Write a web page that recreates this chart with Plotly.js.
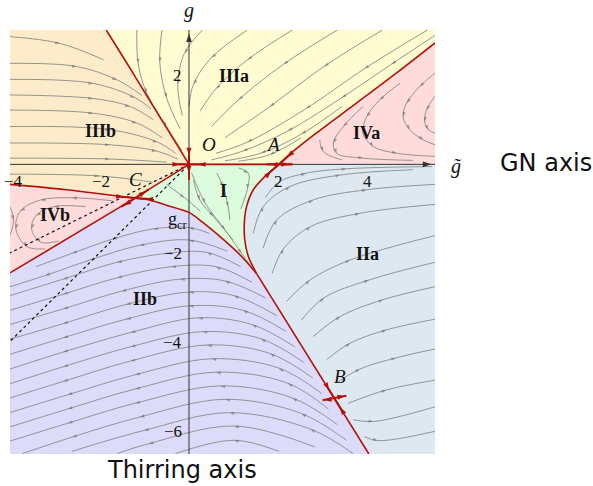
<!DOCTYPE html>
<html><head><meta charset="utf-8">
<script src="https://cdn.plot.ly/plotly-3.0.1.min.js"></script>
<style>body{margin:0;background:#fff}#c{width:593px;height:486px}</style>
</head><body><div id="c"></div>
<script>
// ---------- axis ranges ----------
const xRange = [-3.98, 5.47];
const yRange = [-6.51, 3.02];

// ---------- separatrices (data coords) ----------
const sepO     = [[0,0],[-0.45,0.74],[-0.93,1.53],[-1.39,2.29],[-1.84,3.02]];
const sepAup   = [[2,0],[2.3,0.28],[2.8,0.68],[3.73,1.38],[4.61,2.05],[5.47,2.73]];
const sepAdown = [[2,0],[1.69,-0.27],[1.43,-0.57],[1.28,-0.95],[1.23,-1.32],[1.24,-1.7],[1.32,-2.07],[1.5,-2.45]];
const sepB     = [[1.5,-2.45],[3.24,-5.27],[4.0,-6.51]];
const sepCcurve= [[-1.2,-0.76],[-0.87,-0.8],[-0.5,-0.92],[0.0,-1.08],[0.3,-1.3],[0.8,-1.72],[1.17,-2.07],[1.5,-2.45]];
const sepCleft = [[-1.2,-0.76],[-1.98,-0.66],[-2.72,-0.57],[-3.98,-0.45]];
const sepCdown = [[-1.2,-0.76],[-3.98,-2.44]];
const sepCO    = [[-1.2,-0.76],[0,0]];
const sepAxis  = [[-0.25,0],[2.3,0]];

// ---------- dotted lines ----------
const dotted1 = [[-0.12,-0.06],[-3.98,-1.99]];
const dotted2 = [[-0.12,-0.12],[-3.98,-3.98]];

// ---------- streamlines per region (in flow order) ----------
const streamsIIIb = [
 [[-3.98,2.87],[-2.87,2.72],[-1.9,2.35]],
 [[-3.98,2.27],[-2.5,2.2],[-1.6,1.9],[-1.05,1.55]],
 [[-3.98,1.91],[-2.13,1.82],[-1.2,1.5],[-0.85,1.25]],
 [[-3.98,1.56],[-2.13,1.48],[-1.31,1.3],[-0.79,1.0]],
 [[-3.98,1.22],[-2.13,1.15],[-1.16,0.93],[-0.6,0.6]],
 [[-3.98,0.85],[-1.76,0.78],[-0.7,0.5],[-0.3,0.25]],
 [[-3.98,0.48],[-1.76,0.44],[-0.72,0.3],[-0.25,0.12]],
 [[-3.98,0.14],[-1.76,0.12],[-0.5,0.05]],
 [[-3.98,-0.22],[-2.0,-0.26],[-0.8,-0.4]]
];
const streamsIIIa = [
 [[-1.16,3.02],[-1.13,2.27],[-0.94,1.6],[-0.5,0.85],[-0.15,0.3]],
 [[-0.6,3.02],[-0.65,2.3],[-0.5,1.5],[-0.2,0.8]],
 [[0.3,3.02],[-0.1,2.5],[-0.25,1.8],[-0.15,1.1]],
 [[1.3,3.02],[0.5,2.4],[0.1,1.8],[0.0,1.3]],
 [[2.3,3.02],[1.3,2.35],[0.6,1.7],[0.25,1.2]],
 [[3.3,3.02],[2.1,2.25],[1.1,1.45],[0.5,0.85]],
 [[4.3,3.02],[3.0,2.2],[1.8,1.3],[0.8,0.6]],
 [[5.3,3.02],[3.9,2.15],[2.6,1.25],[1.3,0.5],[0.6,0.25]],
 [[5.47,2.9],[4.5,2.25],[3.4,1.5],[2.2,0.75],[1.2,0.3],[0.5,0.1]],
 [[3.4,1.3],[2.5,0.68],[1.6,0.25],[0.8,0.08]],
 [[2.5,0.6],[1.8,0.22],[1.1,0.07]]
];
const streamsIVa = [
 [[5.47,2.05],[5.13,1.75],[4.84,1.38],[4.76,1.07],[4.91,0.78],[5.21,0.55],[5.47,0.44]],
 [[5.47,1.53],[5.28,1.22],[5.24,0.96],[5.32,0.78],[5.47,0.7]],
 [[4.69,1.82],[4.24,1.45],[3.95,1.07],[3.87,0.7],[4.1,0.4],[4.62,0.25],[5.47,0.18]],
 [[3.87,1.3],[3.43,0.85],[3.21,0.48],[3.28,0.25],[3.87,0.14],[4.98,0.09]],
 [[2.91,0.55],[2.98,0.29],[3.4,0.1]]
];
const streamsIIa = [
 [[1.7,-0.75],[2.0,-0.4],[2.6,-0.2],[3.5,-0.1],[5.4,-0.05]],
 [[1.43,-1.55],[1.65,-0.95],[2.24,-0.5],[3.36,-0.24],[4.98,-0.12]],
 [[1.65,-1.88],[1.95,-1.25],[2.76,-0.8],[3.95,-0.57],[5.47,-0.45]],
 [[1.85,-2.45],[2.1,-1.9],[2.7,-1.4],[3.8,-1.1],[5.47,-0.9]],
 [[2.17,-3.08],[2.69,-2.6],[3.58,-2.15],[5.47,-1.6]],
 [[2.5,-3.5],[3.0,-3.0],[4.0,-2.6],[5.47,-2.2]],
 [[2.76,-3.87],[3.36,-3.42],[4.32,-3.04],[5.47,-2.75]],
 [[3.06,-4.39],[3.58,-4.02],[4.39,-3.72],[5.47,-3.48]],
 [[3.3,-4.9],[3.8,-4.6],[4.6,-4.35],[5.47,-4.15]],
 [[3.54,-5.37],[4.39,-5.07],[5.47,-4.85]],
 [[3.65,-5.74],[4.1,-5.78],[5.47,-5.45]],
 [[3.9,-6.12],[4.2,-6.21],[5.47,-6.0]]
];
const streamsIIb = [
 [[0.45,-1.55],[0.0,-1.42],[-0.8,-1.45],[-1.7,-1.68],[-2.6,-2.0],[-3.4,-2.3]],
 [[0.85,-1.95],[0.0,-1.7],[-1.1,-1.82],[-2.2,-2.15],[-3.2,-2.5],[-3.98,-2.75]],
 [[1.15,-2.3],[0.4,-1.98],[-0.5,-2.0],[-1.6,-2.2],[-2.8,-2.58],[-3.98,-2.95]],
 [[1.4,-2.65],[0.6,-2.3],[-0.4,-2.3],[-1.6,-2.55],[-2.8,-2.92],[-3.98,-3.28]],
 [[1.7,-3.0],[0.8,-2.62],[-0.2,-2.58],[-1.5,-2.85],[-2.8,-3.25],[-3.98,-3.6]],
 [[1.95,-3.4],[1.0,-2.95],[0.0,-2.87],[-1.4,-3.15],[-2.8,-3.58],[-3.98,-3.93]],
 [[2.15,-3.75],[1.2,-3.28],[0.0,-3.18],[-1.4,-3.48],[-2.8,-3.9],[-3.98,-4.27]],
 [[2.35,-4.1],[1.4,-3.6],[0.2,-3.45],[-1.3,-3.78],[-2.8,-4.22],[-3.98,-4.6]],
 [[2.55,-4.45],[1.6,-3.92],[0.3,-3.76],[-1.3,-4.1],[-2.8,-4.55],[-3.98,-4.93]],
 [[2.75,-4.8],[1.8,-4.25],[0.4,-4.06],[-1.3,-4.42],[-2.8,-4.88],[-3.98,-5.25]],
 [[2.95,-5.15],[2.0,-4.58],[0.5,-4.37],[-1.2,-4.73],[-2.7,-5.18],[-3.98,-5.58]],
 [[3.1,-5.5],[2.2,-4.92],[0.6,-4.67],[-1.2,-5.05],[-2.7,-5.5],[-3.98,-5.9]],
 [[3.3,-5.85],[2.3,-5.25],[0.7,-4.98],[-1.2,-5.37],[-2.7,-5.82],[-3.98,-6.22]],
 [[3.5,-6.2],[2.5,-5.6],[0.8,-5.28],[-1.1,-5.68],[-2.6,-6.13],[-3.7,-6.5]],
 [[3.65,-6.5],[2.7,-5.95],[0.9,-5.58],[-1.0,-5.98],[-2.6,-6.45]],
 [[2.8,-6.35],[1.0,-5.88],[-0.9,-6.28],[-1.6,-6.5]],
 [[2.0,-6.45],[1.0,-6.2],[-0.3,-6.5]]
];
const streamsIVb = [
 [[-1.7,-0.82],[-2.6,-0.75],[-3.3,-0.8],[-3.75,-1.05],[-3.85,-1.45],[-3.6,-1.85],[-3.2,-1.9]],
 [[-2.3,-0.95],[-3.0,-0.95],[-3.4,-1.15],[-3.5,-1.45],[-3.3,-1.75],[-2.9,-1.72]],
 [[-3.98,-0.95],[-3.9,-1.25],[-3.98,-1.6]]
];
const streamsI = [
 [[0.06,-0.2],[0.36,-0.87],[0.8,-1.47],[1.17,-2.0],[1.36,-2.26]],
 [[0.62,-0.2],[0.76,-0.5],[0.87,-0.95],[0.91,-1.25]],
 [[1.1,-0.08],[1.32,-0.2],[1.3,-0.55],[1.15,-1.0]],
 [[0.1,-0.35],[0.24,-0.8],[0.54,-1.17],[0.98,-1.7]],
 [[-0.5,-0.45],[-0.1,-0.75],[0.25,-1.05]]
];

// ---------- fixed points ----------
const fpCrossSegs = [
 [[0,-0.35],[0,0.35]], [[-0.3,0],[0.3,0]],              // O
 [[1.72,0],[2.3,0]], [[1.8,-0.18],[2.22,0.2]],          // A
 [[-1.5,-0.95],[-0.9,-0.57]], [[-1.5,-0.73],[-0.9,-0.78]], // C
 [[3.08,-5.01],[3.4,-5.53]], [[2.97,-5.3],[3.5,-5.2]]   // B
];
const fpArrowX   = [0, 0, 0.2, -0.2,   1.8, 2.22, 2.18, 1.83,   -1.45,-0.95,-1.45,-0.97,  3.12, 3.36, 3.0, 3.47];
const fpArrowY   = [0.2,-0.2,0,0,      0, 0, 0.16, -0.15,        -0.93,-0.6,-0.735,-0.775, -5.07,-5.46,-5.295,-5.205];
const fpArrowAng = [180,180,270,90,    270,90,228,45,            238,58,95,275,            149,329,265,80];

// ---------- labels ----------
const regionNames = ['IIIa','IIIb','IVa','IVb','I','IIa','IIb'];
const regionX     = [1.0,-1.97,3.95,-2.98,0.76,3.98,-0.98];
const regionY     = [1.99,0.75,0.71,-1.13,-0.6,-2.01,-3.02];
const fpNames = ['O','A','C','B'];
const fpLabX  = [0.45,1.86,-1.2,3.36];
const fpLabY  = [0.44,0.44,-0.35,-4.76];
const xTickVals = [-4,-2,2,4];
const xTickPos  = [-3.9,-1.96,1.98,3.98];
const yTickVals = [2,-2,-4,-6];

// ---------- build ----------
const traces = [];
const cat = (...parts) => [].concat(...parts);
const rev = a => a.slice().reverse();
function poly(pts, color){
  traces.push({type:'scatter', mode:'lines', x:pts.map(p=>p[0]), y:pts.map(p=>p[1]),
    fill:'toself', fillcolor:color, line:{width:0}, hoverinfo:'skip'});
}
const X0=xRange[0], X1=xRange[1], Y0=yRange[0], Y1=yRange[1];
const px = x => (x-X0)/(X1-X0), py = y => (y-Y0)/(Y1-Y0);
poly(cat([[X0,Y1]], rev(sepO), rev(sepCO), sepCleft), '#fdecca');
poly(cat([[sepO[sepO.length-1][0],Y1],[X1,Y1]], rev(sepAup), sepO), '#fffcd2');
poly(cat(sepAup, [[X1,0]]), '#ffdbdb');
poly(cat([[2,0],[X1,0],[X1,Y0]], rev(sepB), rev(sepAdown)), '#dde8f0');
poly(cat([[0,0]], sepAdown, rev(sepCcurve), sepCO), '#ddfbdd');
poly(cat(sepCcurve, sepB.slice(1), [[X0,Y0]], rev(sepCdown)), '#dcdcfa');
poly(cat(sepCleft, rev(sepCdown)), '#ffdbdb');

function stream(pts){
  traces.push({type:'scatter', mode:'lines+markers', x:pts.map(p=>p[0]), y:pts.map(p=>p[1]),
    line:{color:'#8a8a8a', width:0.9, shape:'spline', smoothing:1},
    marker:{symbol:'arrow', angleref:'previous', color:'#777',
      size:pts.map((p,i)=>(i>0 && i<pts.length-1)?5:0), line:{width:0}},
    hoverinfo:'skip'});
}
[streamsIIIb,streamsIIIa,streamsIVa,streamsIIa,streamsIIb,streamsIVb,streamsI].forEach(g=>g.forEach(stream));

[dotted1,dotted2].forEach(d=>traces.push({type:'scatter',mode:'lines',x:d.map(p=>p[0]),y:d.map(p=>p[1]),
  line:{color:'#111',width:1.2,dash:'dot'},hoverinfo:'skip'}));

// axes lines with arrowheads
traces.push({type:'scatter',mode:'lines',x:[X0,X1],y:[0,0],line:{color:'#333',width:1},hoverinfo:'skip'});
traces.push({type:'scatter',mode:'lines',x:[0,0],y:[Y0,Y1],line:{color:'#333',width:1},hoverinfo:'skip'});
traces.push({type:'scatter',mode:'markers',x:[X1-0.08,0],y:[0,Y1-0.08],cliponaxis:false,
  marker:{symbol:'arrow',size:9,angle:[90,0],color:'#333',line:{width:0}},hoverinfo:'skip'});

function sep(pts, shape){
  traces.push({type:'scatter',mode:'lines',x:pts.map(p=>p[0]),y:pts.map(p=>p[1]),
    line:{color:'#b3120c',width:1.6,shape:shape||'spline',smoothing:0.8},hoverinfo:'skip'});
}
[sepO,sepAup,sepAdown,sepCcurve,sepCleft].forEach(s=>sep(s));
[sepB,sepCdown,sepCO,sepAxis].forEach(s=>sep(s,'linear'));
fpCrossSegs.forEach(s=>traces.push({type:'scatter',mode:'lines',x:s.map(p=>p[0]),y:s.map(p=>p[1]),
  line:{color:'#b3120c',width:2},hoverinfo:'skip'}));
traces.push({type:'scatter',mode:'markers',x:fpArrowX,y:fpArrowY,
  marker:{symbol:'arrow',size:8,angle:fpArrowAng,color:'#b3120c',line:{width:0}},hoverinfo:'skip'});

const serif = 'Liberation Serif, DejaVu Serif, serif';
const ann = [];
regionNames.forEach((t,i)=>ann.push({x:regionX[i],y:regionY[i],text:'<b>'+t+'</b>',showarrow:false,
  font:{family:serif,size:18,color:'#111'}}));
fpNames.forEach((t,i)=>ann.push({x:fpLabX[i],y:fpLabY[i],text:'<i>'+t+'</i>',showarrow:false,
  font:{family:serif,size:19,color:'#111'}}));
ann.push({x:-0.24,y:-1.27,text:'g<sub>cr</sub>',showarrow:false,font:{family:serif,size:18,color:'#111'}});
xTickVals.forEach((v,i)=>ann.push({x:xTickPos[i],y:-0.39,text:(v<0?'\u2212'+(-v):''+v),showarrow:false,
  font:{family:serif,size:17,color:'#111'}}));
yTickVals.forEach(v=>ann.push({x:-0.12,y:v,xanchor:'right',text:(v<0?'\u2212'+(-v):''+v),showarrow:false,
  font:{family:serif,size:17,color:'#111'}}));
// axis names (outside the plotting range -> paper coordinates)
const paperAnn = (x,y,text,font)=>ann.push({xref:'paper',yref:'paper',x:px(x),y:py(y),
  xanchor:'center',yanchor:'middle',text:text,showarrow:false,font:font});
paperAnn(0,3.45,'<i>g</i>',{family:serif,size:20,color:'#111'});
paperAnn(5.93,-0.05,'<i>g\u0303</i>',{family:serif,size:20,color:'#111'});
paperAnn(7.93,0.03,'GN axis',{family:'DejaVu Sans',size:24,color:'#111'});
paperAnn(-0.16,-6.87,'Thirring axis',{family:'DejaVu Sans',size:24,color:'#111'});

const layout = {width:593,height:486,margin:{l:10,r:158,t:30,b:32},showlegend:false,
  paper_bgcolor:'#fff',plot_bgcolor:'#fff',
  xaxis:{range:xRange,visible:false,fixedrange:true},
  yaxis:{range:yRange,visible:false,fixedrange:true},
  annotations:ann};
Plotly.newPlot('c',traces,layout,{staticPlot:true,displayModeBar:false});
</script></body></html>
